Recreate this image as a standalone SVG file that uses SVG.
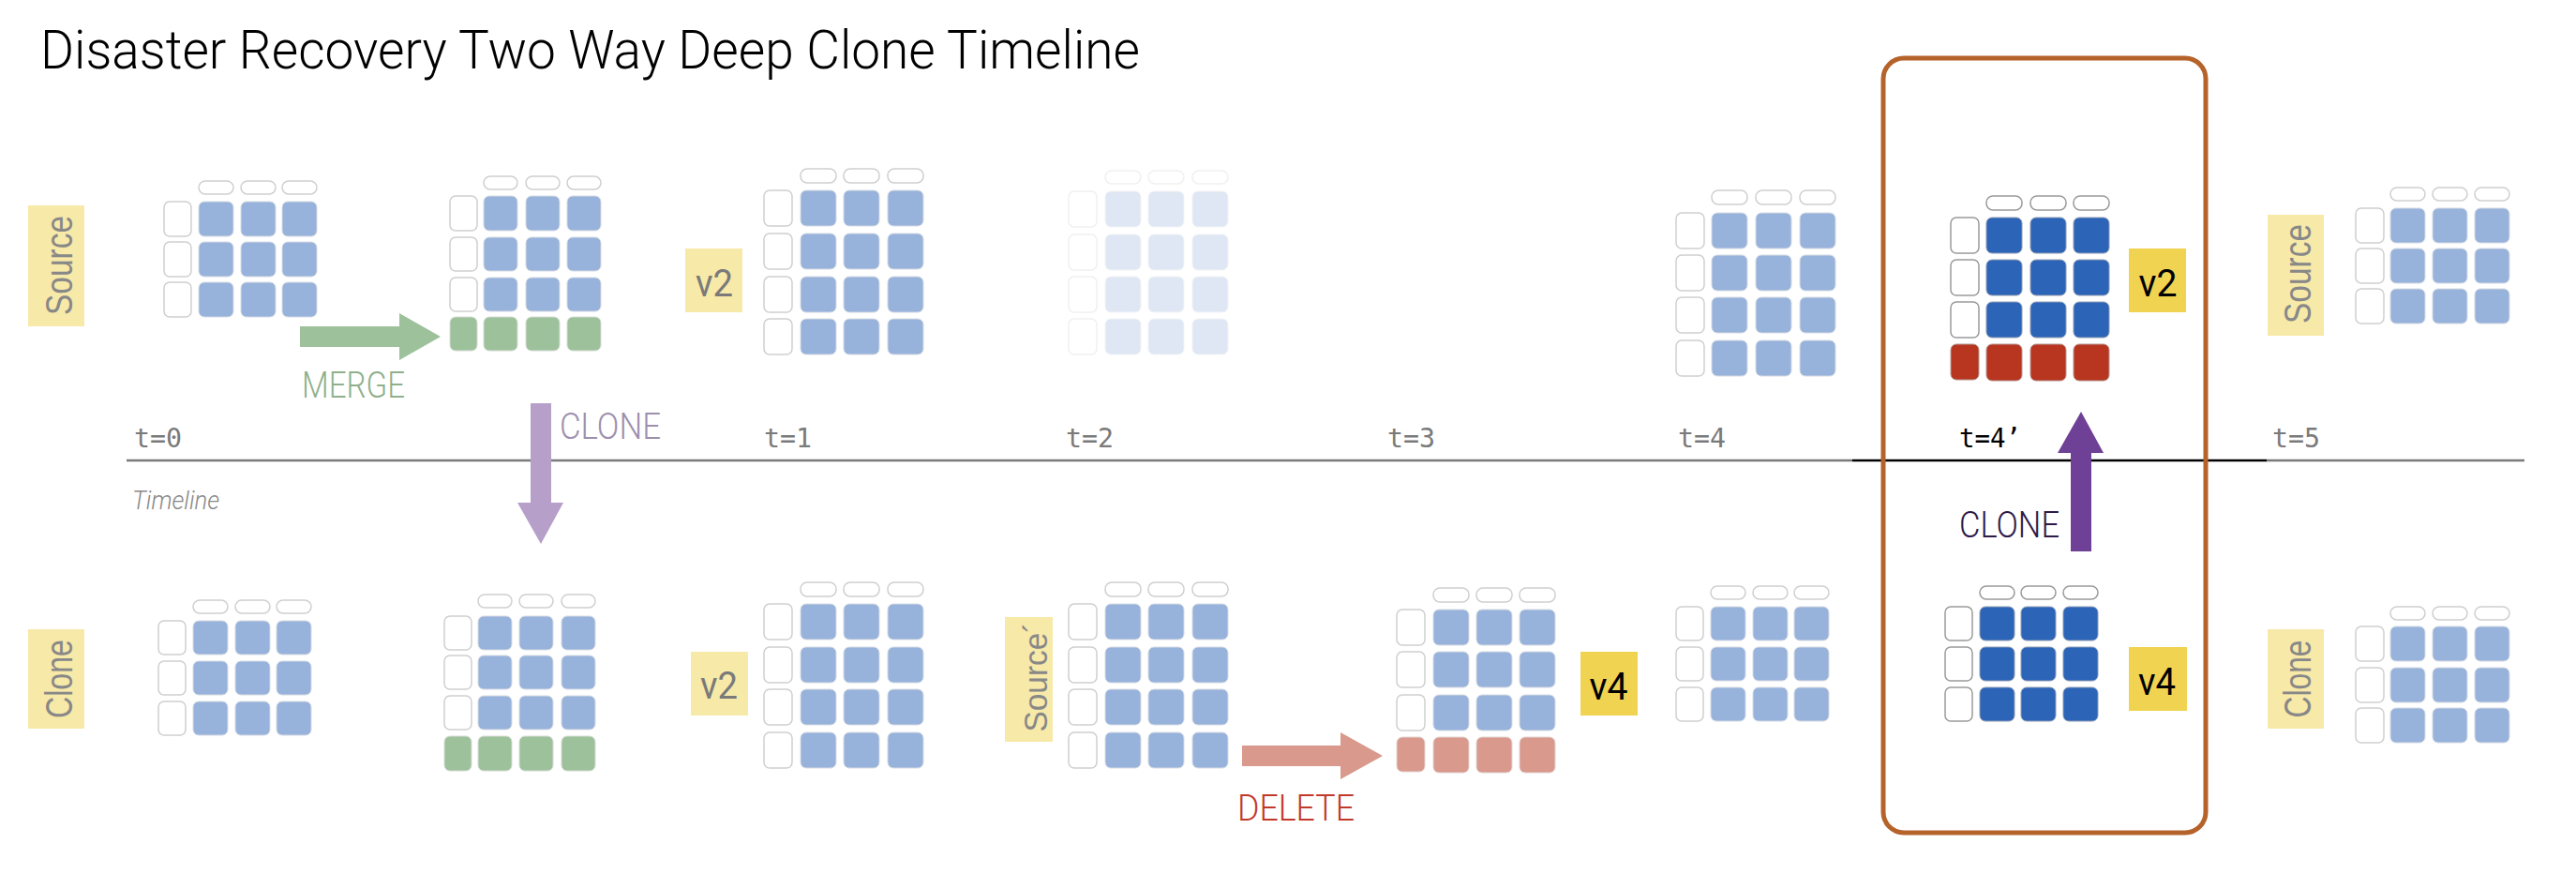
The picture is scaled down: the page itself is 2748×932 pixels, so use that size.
<svg xmlns="http://www.w3.org/2000/svg" width="2748" height="932" viewBox="0 0 2748 932">
<style>
.bg{fill:#ffffff}
.hd{fill:#ffffff;stroke:#cfcfcf;stroke-width:1.5}
.wc{fill:#ffffff;stroke:#cfcfcf;stroke-width:1.5}
.bc{fill:#97b2db;stroke:#d6dbe3;stroke-width:1}
.gc{fill:#9dc29b;stroke:#d6dbd6;stroke-width:1}
.pc{fill:#d9998c;stroke:#e2d6d3;stroke-width:1}
.dk .hd,.dk .wc{stroke:#9a9a9a}
.dc{fill:#2c64b8;stroke:#8f9cb3;stroke-width:1}
.rc{fill:#b83520;stroke:#b59a94;stroke-width:1}
.faded{opacity:0.3}
.lbl{fill:#f7e9a8}
.lbl2{fill:#f0d351}
.rot{font-family:"Liberation Sans",Arial,sans-serif;font-size:40px;fill:#888888;text-anchor:middle}
.ver{font-family:Roboto,"Liberation Sans",sans-serif;font-size:40px;text-anchor:middle}
.tk{font-family:"DejaVu Sans Mono","Liberation Mono",monospace;font-size:29px;fill:#7a7a7a}
.act{font-family:Roboto,"Liberation Sans",sans-serif;font-size:38px;font-weight:300}
</style>
<rect class="bg" x="0" y="0" width="2748" height="932"/>
<text x="43" y="73" font-family="Roboto,'Liberation Sans',sans-serif" font-weight="300" font-size="57" fill="#000" textLength="1173" lengthAdjust="spacingAndGlyphs">Disaster Recovery Two Way Deep Clone Timeline</text>

<g id="timeline">
<line x1="135" y1="491" x2="1976" y2="491" stroke="#7a7a7a" stroke-width="2.5"/>
<line x1="1976" y1="491" x2="2418" y2="491" stroke="#000" stroke-width="2.5"/>
<line x1="2418" y1="491" x2="2693" y2="491" stroke="#7a7a7a" stroke-width="2.5"/>
<text class="tk" x="143" y="477" textLength="51" lengthAdjust="spacingAndGlyphs">t=0</text>
<text class="tk" x="815" y="477" textLength="51" lengthAdjust="spacingAndGlyphs">t=1</text>
<text class="tk" x="1137" y="477" textLength="51" lengthAdjust="spacingAndGlyphs">t=2</text>
<text class="tk" x="1480" y="477" textLength="51" lengthAdjust="spacingAndGlyphs">t=3</text>
<text class="tk" x="1790" y="477" textLength="51" lengthAdjust="spacingAndGlyphs">t=4</text>
<text class="tk" x="2090" y="477" style="fill:#000" textLength="66" lengthAdjust="spacingAndGlyphs">t=4’</text>
<text class="tk" x="2424" y="477" textLength="51" lengthAdjust="spacingAndGlyphs">t=5</text>
<text x="141" y="543" font-family="Roboto,'Liberation Sans',sans-serif" font-style="italic" font-weight="300" font-size="27" fill="#888" textLength="93" lengthAdjust="spacingAndGlyphs">Timeline</text>
</g>

<g id="highlight-box">
<rect x="2009" y="62" width="344" height="826" rx="22" fill="none" stroke="#b5632a" stroke-width="5"/>
</g>

<!-- Top row -->
<g id="label-source-top">
<rect class="lbl" x="30" y="219" width="60" height="129"/>
<text class="rot" transform="translate(77,283) rotate(-90)" textLength="106" lengthAdjust="spacingAndGlyphs">Source</text>
</g>
<g id="grid-source-t0">
<rect class="hd" x="212" y="193" width="37" height="14" rx="7"/>
<rect class="hd" x="257" y="193" width="37" height="14" rx="7"/>
<rect class="hd" x="301" y="193" width="37" height="14" rx="7"/>
<rect class="wc" x="175" y="215" width="29" height="37" rx="6"/>
<rect class="bc" x="212" y="215" width="37" height="37" rx="6"/>
<rect class="bc" x="257" y="215" width="37" height="37" rx="6"/>
<rect class="bc" x="301" y="215" width="37" height="37" rx="6"/>
<rect class="wc" x="175" y="258" width="29" height="37" rx="6"/>
<rect class="bc" x="212" y="258" width="37" height="37" rx="6"/>
<rect class="bc" x="257" y="258" width="37" height="37" rx="6"/>
<rect class="bc" x="301" y="258" width="37" height="37" rx="6"/>
<rect class="wc" x="175" y="301" width="29" height="37" rx="6"/>
<rect class="bc" x="212" y="301" width="37" height="37" rx="6"/>
<rect class="bc" x="257" y="301" width="37" height="37" rx="6"/>
<rect class="bc" x="301" y="301" width="37" height="37" rx="6"/>
</g>
<g id="grid-source-merged">
<rect class="hd" x="516" y="188" width="36" height="14" rx="7"/>
<rect class="hd" x="561" y="188" width="36" height="14" rx="7"/>
<rect class="hd" x="605" y="188" width="36" height="14" rx="7"/>
<rect class="wc" x="480" y="209" width="29" height="37" rx="6"/>
<rect class="bc" x="516" y="209" width="36" height="37" rx="6"/>
<rect class="bc" x="561" y="209" width="36" height="37" rx="6"/>
<rect class="bc" x="605" y="209" width="36" height="37" rx="6"/>
<rect class="wc" x="480" y="253" width="29" height="36" rx="6"/>
<rect class="bc" x="516" y="253" width="36" height="36" rx="6"/>
<rect class="bc" x="561" y="253" width="36" height="36" rx="6"/>
<rect class="bc" x="605" y="253" width="36" height="36" rx="6"/>
<rect class="wc" x="480" y="296" width="29" height="36" rx="6"/>
<rect class="bc" x="516" y="296" width="36" height="36" rx="6"/>
<rect class="bc" x="561" y="296" width="36" height="36" rx="6"/>
<rect class="bc" x="605" y="296" width="36" height="36" rx="6"/>
<rect class="gc" x="480" y="338" width="29" height="36" rx="6"/>
<rect class="gc" x="516" y="338" width="36" height="36" rx="6"/>
<rect class="gc" x="561" y="338" width="36" height="36" rx="6"/>
<rect class="gc" x="605" y="338" width="36" height="36" rx="6"/>
</g>
<g id="label-v2-top">
<rect class="lbl" x="731" y="265" width="61" height="68"/>
<text class="ver" x="762" y="316" fill="#7a7a7a" textLength="40" lengthAdjust="spacingAndGlyphs">v2</text>
</g>
<g id="grid-source-t1">
<rect class="hd" x="854" y="180" width="38" height="15" rx="7"/>
<rect class="hd" x="900" y="180" width="38" height="15" rx="7"/>
<rect class="hd" x="947" y="180" width="38" height="15" rx="7"/>
<rect class="wc" x="815" y="203" width="30" height="38" rx="6"/>
<rect class="bc" x="854" y="203" width="38" height="38" rx="6"/>
<rect class="bc" x="900" y="203" width="38" height="38" rx="6"/>
<rect class="bc" x="947" y="203" width="38" height="38" rx="6"/>
<rect class="wc" x="815" y="249" width="30" height="38" rx="6"/>
<rect class="bc" x="854" y="249" width="38" height="38" rx="6"/>
<rect class="bc" x="900" y="249" width="38" height="38" rx="6"/>
<rect class="bc" x="947" y="249" width="38" height="38" rx="6"/>
<rect class="wc" x="815" y="295" width="30" height="38" rx="6"/>
<rect class="bc" x="854" y="295" width="38" height="38" rx="6"/>
<rect class="bc" x="900" y="295" width="38" height="38" rx="6"/>
<rect class="bc" x="947" y="295" width="38" height="38" rx="6"/>
<rect class="wc" x="815" y="340" width="30" height="38" rx="6"/>
<rect class="bc" x="854" y="340" width="38" height="38" rx="6"/>
<rect class="bc" x="900" y="340" width="38" height="38" rx="6"/>
<rect class="bc" x="947" y="340" width="38" height="38" rx="6"/>
</g>
<g id="grid-source-t2-faded" class="faded">
<rect class="hd" x="1179" y="182" width="38" height="14" rx="7"/>
<rect class="hd" x="1225" y="182" width="38" height="14" rx="7"/>
<rect class="hd" x="1272" y="182" width="38" height="14" rx="7"/>
<rect class="wc" x="1140" y="204" width="30" height="38" rx="6"/>
<rect class="bc" x="1179" y="204" width="38" height="38" rx="6"/>
<rect class="bc" x="1225" y="204" width="38" height="38" rx="6"/>
<rect class="bc" x="1272" y="204" width="38" height="38" rx="6"/>
<rect class="wc" x="1140" y="250" width="30" height="38" rx="6"/>
<rect class="bc" x="1179" y="250" width="38" height="38" rx="6"/>
<rect class="bc" x="1225" y="250" width="38" height="38" rx="6"/>
<rect class="bc" x="1272" y="250" width="38" height="38" rx="6"/>
<rect class="wc" x="1140" y="295" width="30" height="38" rx="6"/>
<rect class="bc" x="1179" y="295" width="38" height="38" rx="6"/>
<rect class="bc" x="1225" y="295" width="38" height="38" rx="6"/>
<rect class="bc" x="1272" y="295" width="38" height="38" rx="6"/>
<rect class="wc" x="1140" y="340" width="30" height="38" rx="6"/>
<rect class="bc" x="1179" y="340" width="38" height="38" rx="6"/>
<rect class="bc" x="1225" y="340" width="38" height="38" rx="6"/>
<rect class="bc" x="1272" y="340" width="38" height="38" rx="6"/>
</g>
<g id="grid-source-t4">
<rect class="hd" x="1826" y="203" width="38" height="15" rx="7"/>
<rect class="hd" x="1873" y="203" width="38" height="15" rx="7"/>
<rect class="hd" x="1920" y="203" width="38" height="15" rx="7"/>
<rect class="wc" x="1788" y="227" width="30" height="38" rx="6"/>
<rect class="bc" x="1826" y="227" width="38" height="38" rx="6"/>
<rect class="bc" x="1873" y="227" width="38" height="38" rx="6"/>
<rect class="bc" x="1920" y="227" width="38" height="38" rx="6"/>
<rect class="wc" x="1788" y="272" width="30" height="38" rx="6"/>
<rect class="bc" x="1826" y="272" width="38" height="38" rx="6"/>
<rect class="bc" x="1873" y="272" width="38" height="38" rx="6"/>
<rect class="bc" x="1920" y="272" width="38" height="38" rx="6"/>
<rect class="wc" x="1788" y="317" width="30" height="38" rx="6"/>
<rect class="bc" x="1826" y="317" width="38" height="38" rx="6"/>
<rect class="bc" x="1873" y="317" width="38" height="38" rx="6"/>
<rect class="bc" x="1920" y="317" width="38" height="38" rx="6"/>
<rect class="wc" x="1788" y="363" width="30" height="38" rx="6"/>
<rect class="bc" x="1826" y="363" width="38" height="38" rx="6"/>
<rect class="bc" x="1873" y="363" width="38" height="38" rx="6"/>
<rect class="bc" x="1920" y="363" width="38" height="38" rx="6"/>
</g>
<g id="grid-source-t4prime" class="dk">
<rect class="hd" x="2119" y="209" width="38" height="15" rx="7"/>
<rect class="hd" x="2166" y="209" width="38" height="15" rx="7"/>
<rect class="hd" x="2212" y="209" width="38" height="15" rx="7"/>
<rect class="wc" x="2081" y="232" width="30" height="38" rx="6"/>
<rect class="dc" x="2119" y="232" width="38" height="38" rx="6"/>
<rect class="dc" x="2166" y="232" width="38" height="38" rx="6"/>
<rect class="dc" x="2212" y="232" width="38" height="38" rx="6"/>
<rect class="wc" x="2081" y="277" width="30" height="38" rx="6"/>
<rect class="dc" x="2119" y="277" width="38" height="38" rx="6"/>
<rect class="dc" x="2166" y="277" width="38" height="38" rx="6"/>
<rect class="dc" x="2212" y="277" width="38" height="38" rx="6"/>
<rect class="wc" x="2081" y="322" width="30" height="38" rx="6"/>
<rect class="dc" x="2119" y="322" width="38" height="38" rx="6"/>
<rect class="dc" x="2166" y="322" width="38" height="38" rx="6"/>
<rect class="dc" x="2212" y="322" width="38" height="38" rx="6"/>
<rect class="rc" x="2081" y="367" width="30" height="38" rx="6"/>
<rect class="rc" x="2119" y="367" width="38" height="39" rx="6"/>
<rect class="rc" x="2166" y="367" width="38" height="39" rx="6"/>
<rect class="rc" x="2212" y="367" width="38" height="39" rx="6"/>
</g>
<g id="label-v2-box">
<rect class="lbl2" x="2271" y="265" width="61" height="68"/>
<text class="ver" x="2302" y="316" fill="#000" textLength="41" lengthAdjust="spacingAndGlyphs">v2</text>
</g>
<g id="label-source-right">
<rect class="lbl" x="2419" y="229" width="60" height="129"/>
<text class="rot" transform="translate(2465,292) rotate(-90)" textLength="106" lengthAdjust="spacingAndGlyphs">Source</text>
</g>
<g id="grid-source-t5">
<rect class="hd" x="2550" y="200" width="37" height="14" rx="7"/>
<rect class="hd" x="2595" y="200" width="37" height="14" rx="7"/>
<rect class="hd" x="2640" y="200" width="37" height="14" rx="7"/>
<rect class="wc" x="2513" y="222" width="30" height="37" rx="6"/>
<rect class="bc" x="2550" y="222" width="37" height="37" rx="6"/>
<rect class="bc" x="2595" y="222" width="37" height="37" rx="6"/>
<rect class="bc" x="2640" y="222" width="37" height="37" rx="6"/>
<rect class="wc" x="2513" y="265" width="30" height="37" rx="6"/>
<rect class="bc" x="2550" y="265" width="37" height="37" rx="6"/>
<rect class="bc" x="2595" y="265" width="37" height="37" rx="6"/>
<rect class="bc" x="2640" y="265" width="37" height="37" rx="6"/>
<rect class="wc" x="2513" y="308" width="30" height="37" rx="6"/>
<rect class="bc" x="2550" y="308" width="37" height="37" rx="6"/>
<rect class="bc" x="2595" y="308" width="37" height="37" rx="6"/>
<rect class="bc" x="2640" y="308" width="37" height="37" rx="6"/>
</g>

<!-- Bottom row -->
<g id="label-clone-left">
<rect class="lbl" x="30" y="671" width="60" height="106"/>
<text class="rot" transform="translate(77,724) rotate(-90)" textLength="84" lengthAdjust="spacingAndGlyphs">Clone</text>
</g>
<g id="grid-clone-t0">
<rect class="hd" x="206" y="640" width="37" height="14" rx="7"/>
<rect class="hd" x="251" y="640" width="37" height="14" rx="7"/>
<rect class="hd" x="295" y="640" width="37" height="14" rx="7"/>
<rect class="wc" x="169" y="662" width="29" height="36" rx="6"/>
<rect class="bc" x="206" y="662" width="37" height="36" rx="6"/>
<rect class="bc" x="251" y="662" width="37" height="36" rx="6"/>
<rect class="bc" x="295" y="662" width="37" height="36" rx="6"/>
<rect class="wc" x="169" y="705" width="29" height="36" rx="6"/>
<rect class="bc" x="206" y="705" width="37" height="36" rx="6"/>
<rect class="bc" x="251" y="705" width="37" height="36" rx="6"/>
<rect class="bc" x="295" y="705" width="37" height="36" rx="6"/>
<rect class="wc" x="169" y="748" width="29" height="36" rx="6"/>
<rect class="bc" x="206" y="748" width="37" height="36" rx="6"/>
<rect class="bc" x="251" y="748" width="37" height="36" rx="6"/>
<rect class="bc" x="295" y="748" width="37" height="36" rx="6"/>
</g>
<g id="grid-clone-merged">
<rect class="hd" x="510" y="634" width="36" height="14" rx="7"/>
<rect class="hd" x="554" y="634" width="36" height="14" rx="7"/>
<rect class="hd" x="599" y="634" width="36" height="14" rx="7"/>
<rect class="wc" x="474" y="657" width="29" height="36" rx="6"/>
<rect class="bc" x="510" y="657" width="36" height="36" rx="6"/>
<rect class="bc" x="554" y="657" width="36" height="36" rx="6"/>
<rect class="bc" x="599" y="657" width="36" height="36" rx="6"/>
<rect class="wc" x="474" y="699" width="29" height="36" rx="6"/>
<rect class="bc" x="510" y="699" width="36" height="36" rx="6"/>
<rect class="bc" x="554" y="699" width="36" height="36" rx="6"/>
<rect class="bc" x="599" y="699" width="36" height="36" rx="6"/>
<rect class="wc" x="474" y="742" width="29" height="36" rx="6"/>
<rect class="bc" x="510" y="742" width="36" height="36" rx="6"/>
<rect class="bc" x="554" y="742" width="36" height="36" rx="6"/>
<rect class="bc" x="599" y="742" width="36" height="36" rx="6"/>
<rect class="gc" x="474" y="785" width="29" height="37" rx="6"/>
<rect class="gc" x="510" y="785" width="36" height="37" rx="6"/>
<rect class="gc" x="554" y="785" width="36" height="37" rx="6"/>
<rect class="gc" x="599" y="785" width="36" height="37" rx="6"/>
</g>
<g id="label-v2-bottom">
<rect class="lbl" x="737" y="695" width="61" height="68"/>
<text class="ver" x="767" y="745" fill="#7a7a7a" textLength="40" lengthAdjust="spacingAndGlyphs">v2</text>
</g>
<g id="grid-clone-t1">
<rect class="hd" x="854" y="621" width="38" height="15" rx="7"/>
<rect class="hd" x="900" y="621" width="38" height="15" rx="7"/>
<rect class="hd" x="947" y="621" width="38" height="15" rx="7"/>
<rect class="wc" x="815" y="644" width="30" height="38" rx="6"/>
<rect class="bc" x="854" y="644" width="38" height="38" rx="6"/>
<rect class="bc" x="900" y="644" width="38" height="38" rx="6"/>
<rect class="bc" x="947" y="644" width="38" height="38" rx="6"/>
<rect class="wc" x="815" y="690" width="30" height="38" rx="6"/>
<rect class="bc" x="854" y="690" width="38" height="38" rx="6"/>
<rect class="bc" x="900" y="690" width="38" height="38" rx="6"/>
<rect class="bc" x="947" y="690" width="38" height="38" rx="6"/>
<rect class="wc" x="815" y="735" width="30" height="38" rx="6"/>
<rect class="bc" x="854" y="735" width="38" height="38" rx="6"/>
<rect class="bc" x="900" y="735" width="38" height="38" rx="6"/>
<rect class="bc" x="947" y="735" width="38" height="38" rx="6"/>
<rect class="wc" x="815" y="781" width="30" height="38" rx="6"/>
<rect class="bc" x="854" y="781" width="38" height="38" rx="6"/>
<rect class="bc" x="900" y="781" width="38" height="38" rx="6"/>
<rect class="bc" x="947" y="781" width="38" height="38" rx="6"/>
</g>
<g id="label-source-prime">
<rect class="lbl" x="1072" y="658" width="51" height="133"/>
<text class="rot" transform="translate(1117,722) rotate(-90)" style="font-size:35px" textLength="117" lengthAdjust="spacingAndGlyphs">Source´</text>
</g>
<g id="grid-clone-t2">
<rect class="hd" x="1179" y="621" width="38" height="15" rx="7"/>
<rect class="hd" x="1225" y="621" width="38" height="15" rx="7"/>
<rect class="hd" x="1272" y="621" width="38" height="15" rx="7"/>
<rect class="wc" x="1140" y="644" width="30" height="38" rx="6"/>
<rect class="bc" x="1179" y="644" width="38" height="38" rx="6"/>
<rect class="bc" x="1225" y="644" width="38" height="38" rx="6"/>
<rect class="bc" x="1272" y="644" width="38" height="38" rx="6"/>
<rect class="wc" x="1140" y="690" width="30" height="38" rx="6"/>
<rect class="bc" x="1179" y="690" width="38" height="38" rx="6"/>
<rect class="bc" x="1225" y="690" width="38" height="38" rx="6"/>
<rect class="bc" x="1272" y="690" width="38" height="38" rx="6"/>
<rect class="wc" x="1140" y="735" width="30" height="38" rx="6"/>
<rect class="bc" x="1179" y="735" width="38" height="38" rx="6"/>
<rect class="bc" x="1225" y="735" width="38" height="38" rx="6"/>
<rect class="bc" x="1272" y="735" width="38" height="38" rx="6"/>
<rect class="wc" x="1140" y="781" width="30" height="38" rx="6"/>
<rect class="bc" x="1179" y="781" width="38" height="38" rx="6"/>
<rect class="bc" x="1225" y="781" width="38" height="38" rx="6"/>
<rect class="bc" x="1272" y="781" width="38" height="38" rx="6"/>
</g>
<g id="grid-clone-t3">
<rect class="hd" x="1529" y="627" width="38" height="15" rx="7"/>
<rect class="hd" x="1575" y="627" width="38" height="15" rx="7"/>
<rect class="hd" x="1621" y="627" width="38" height="15" rx="7"/>
<rect class="wc" x="1490" y="650" width="30" height="38" rx="6"/>
<rect class="bc" x="1529" y="650" width="38" height="38" rx="6"/>
<rect class="bc" x="1575" y="650" width="38" height="38" rx="6"/>
<rect class="bc" x="1621" y="650" width="38" height="38" rx="6"/>
<rect class="wc" x="1490" y="695" width="30" height="38" rx="6"/>
<rect class="bc" x="1529" y="695" width="38" height="38" rx="6"/>
<rect class="bc" x="1575" y="695" width="38" height="38" rx="6"/>
<rect class="bc" x="1621" y="695" width="38" height="38" rx="6"/>
<rect class="wc" x="1490" y="741" width="30" height="38" rx="6"/>
<rect class="bc" x="1529" y="741" width="38" height="38" rx="6"/>
<rect class="bc" x="1575" y="741" width="38" height="38" rx="6"/>
<rect class="bc" x="1621" y="741" width="38" height="38" rx="6"/>
<rect class="pc" x="1490" y="786" width="30" height="37" rx="6"/>
<rect class="pc" x="1529" y="786" width="38" height="38" rx="6"/>
<rect class="pc" x="1575" y="786" width="38" height="38" rx="6"/>
<rect class="pc" x="1621" y="786" width="38" height="38" rx="6"/>
</g>
<g id="label-v4-bottom">
<rect class="lbl2" x="1686" y="695" width="61" height="68"/>
<text class="ver" x="1716" y="746" fill="#000" textLength="41" lengthAdjust="spacingAndGlyphs">v4</text>
</g>
<g id="grid-clone-t4">
<rect class="hd" x="1825" y="625" width="37" height="14" rx="7"/>
<rect class="hd" x="1870" y="625" width="37" height="14" rx="7"/>
<rect class="hd" x="1914" y="625" width="37" height="14" rx="7"/>
<rect class="wc" x="1788" y="647" width="29" height="36" rx="6"/>
<rect class="bc" x="1825" y="647" width="37" height="36" rx="6"/>
<rect class="bc" x="1870" y="647" width="37" height="36" rx="6"/>
<rect class="bc" x="1914" y="647" width="37" height="36" rx="6"/>
<rect class="wc" x="1788" y="690" width="29" height="36" rx="6"/>
<rect class="bc" x="1825" y="690" width="37" height="36" rx="6"/>
<rect class="bc" x="1870" y="690" width="37" height="36" rx="6"/>
<rect class="bc" x="1914" y="690" width="37" height="36" rx="6"/>
<rect class="wc" x="1788" y="733" width="29" height="36" rx="6"/>
<rect class="bc" x="1825" y="733" width="37" height="36" rx="6"/>
<rect class="bc" x="1870" y="733" width="37" height="36" rx="6"/>
<rect class="bc" x="1914" y="733" width="37" height="36" rx="6"/>
</g>
<g id="grid-clone-t4prime" class="dk">
<rect class="hd" x="2112" y="625" width="37" height="14" rx="7"/>
<rect class="hd" x="2156" y="625" width="37" height="14" rx="7"/>
<rect class="hd" x="2201" y="625" width="37" height="14" rx="7"/>
<rect class="wc" x="2075" y="647" width="29" height="36" rx="6"/>
<rect class="dc" x="2112" y="647" width="37" height="36" rx="6"/>
<rect class="dc" x="2156" y="647" width="37" height="36" rx="6"/>
<rect class="dc" x="2201" y="647" width="37" height="36" rx="6"/>
<rect class="wc" x="2075" y="690" width="29" height="36" rx="6"/>
<rect class="dc" x="2112" y="690" width="37" height="36" rx="6"/>
<rect class="dc" x="2156" y="690" width="37" height="36" rx="6"/>
<rect class="dc" x="2201" y="690" width="37" height="36" rx="6"/>
<rect class="wc" x="2075" y="733" width="29" height="36" rx="6"/>
<rect class="dc" x="2112" y="733" width="37" height="36" rx="6"/>
<rect class="dc" x="2156" y="733" width="37" height="36" rx="6"/>
<rect class="dc" x="2201" y="733" width="37" height="36" rx="6"/>
</g>
<g id="label-v4-box">
<rect class="lbl2" x="2271" y="690" width="62" height="68"/>
<text class="ver" x="2301" y="741" fill="#000" textLength="40" lengthAdjust="spacingAndGlyphs">v4</text>
</g>
<g id="label-clone-right">
<rect class="lbl" x="2419" y="671" width="60" height="106"/>
<text class="rot" transform="translate(2465,724) rotate(-90)" textLength="83" lengthAdjust="spacingAndGlyphs">Clone</text>
</g>
<g id="grid-clone-t5">
<rect class="hd" x="2550" y="647" width="37" height="14" rx="7"/>
<rect class="hd" x="2595" y="647" width="37" height="14" rx="7"/>
<rect class="hd" x="2640" y="647" width="37" height="14" rx="7"/>
<rect class="wc" x="2513" y="668" width="30" height="37" rx="6"/>
<rect class="bc" x="2550" y="668" width="37" height="37" rx="6"/>
<rect class="bc" x="2595" y="668" width="37" height="37" rx="6"/>
<rect class="bc" x="2640" y="668" width="37" height="37" rx="6"/>
<rect class="wc" x="2513" y="712" width="30" height="37" rx="6"/>
<rect class="bc" x="2550" y="712" width="37" height="37" rx="6"/>
<rect class="bc" x="2595" y="712" width="37" height="37" rx="6"/>
<rect class="bc" x="2640" y="712" width="37" height="37" rx="6"/>
<rect class="wc" x="2513" y="755" width="30" height="37" rx="6"/>
<rect class="bc" x="2550" y="755" width="37" height="37" rx="6"/>
<rect class="bc" x="2595" y="755" width="37" height="37" rx="6"/>
<rect class="bc" x="2640" y="755" width="37" height="37" rx="6"/>
</g>

<g id="connectors">
<path d="M320,348 H426 V334 L470,359 L426,384 V370 H320 Z" fill="#9dc29b"/>
<text class="act" x="322" y="424" fill="#8fb08a" textLength="110" lengthAdjust="spacingAndGlyphs">MERGE</text>
<path d="M566,430 H588 V536 H601 L577,580 L552,536 H566 Z" fill="#b6a0c9"/>
<text class="act" x="597" y="468" fill="#9d8fae" textLength="108" lengthAdjust="spacingAndGlyphs">CLONE</text>
<path d="M1325,795 H1430 V781 L1475,806 L1430,831 V817 H1325 Z" fill="#d9998c"/>
<text class="act" x="1320" y="875" fill="#c0392b" textLength="125" lengthAdjust="spacingAndGlyphs">DELETE</text>
<path d="M2209,588 V483 H2195 L2220,439 L2244,483 H2231 V588 Z" fill="#6f4196"/>
<text class="act" x="2090" y="573" fill="#2e1a47" textLength="107" lengthAdjust="spacingAndGlyphs">CLONE</text>
</g>
</svg>
